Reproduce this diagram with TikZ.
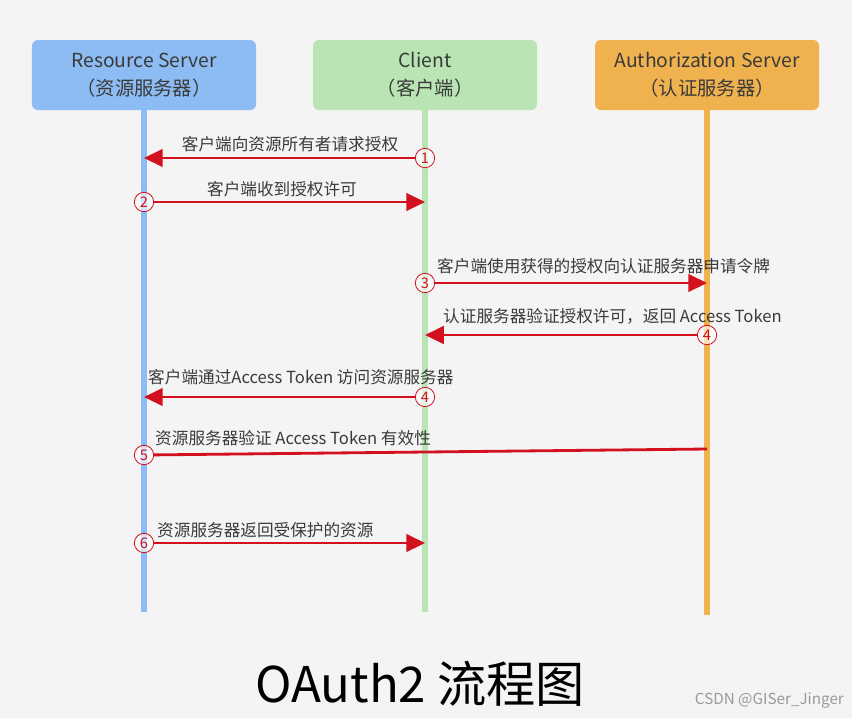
\documentclass[tikz,border=0pt]{standalone}
\usepackage{fontspec}
\setmainfont{Noto Sans CJK SC}
\usepackage{xcolor}
\usetikzlibrary{calc}
\usetikzlibrary{arrows.meta}
\usetikzlibrary{positioning}

\definecolor{bgcol}{HTML}{F4F4F4}
\definecolor{rsblue}{HTML}{8CBCF3}
\definecolor{clgreen}{HTML}{B9E5B4}
\definecolor{asorange}{HTML}{EFB24F}
\definecolor{msgred}{HTML}{D3101E}
\definecolor{txtgray}{HTML}{3A3A3A}

\begin{document}
\begin{tikzpicture}[x=0.03cm, y=-0.03cm,
    box/.style={rounded corners=5pt, minimum width=6.72cm, minimum height=2.1cm,
        align=center, text=txtgray, font=\fontsize{16.5}{24}\selectfont},
    life/.style={line width=5pt},
    msg/.style={draw=msgred, line width=2.4pt, -{Triangle[length=16pt, width=15pt]}},
    num/.style={circle, draw=msgred, fill=white, fill opacity=0.6, text opacity=1,
        text=msgred, inner sep=0pt, minimum size=0.58cm, line width=0.7pt,
        font=\fontsize{12.5}{12}\selectfont},
    lbl/.style={text=txtgray, inner sep=0pt, font=\fontsize{14.2}{16}\selectfont}]

    % 1. Background and fixed frame
    \fill[bgcol] (0,0) rectangle (852,718);
    \useasboundingbox (0,0) rectangle (852,718);

    % 2. The three parties
    \node[box, fill=rsblue] (rs) at (144,75) {Resource Server\\（资源服务器）};
    \node[box, fill=clgreen] (cl) at (425,75) {Client\\（客户端）};
    \node[box, fill=asorange] (auth) at (707,75) {Authorization Server\\（认证服务器）};

    % 3. Life lines below each party
    \coordinate (rsEnd) at (rs.south |- 0,612);
    \coordinate (clEnd) at (cl.south |- 0,612);
    \coordinate (authEnd) at (auth.south |- 0,615);
    \draw[life, rsblue] (rs.south) -- (rsEnd);
    \draw[life, clgreen] (cl.south) -- (clEnd);
    \draw[life, asorange] (auth.south) -- (authEnd);

    % 4. Client asks the resource owner for a grant
    \node[num] (n1) at (cl.south |- 0,158) {1};
    \coordinate (e1) at (rs.south |- 0,158);
    \draw[msg] (n1) -- (e1);
    \node[lbl] (t1) at (290,144) {客户端向资源所有者请求授权};

    % 5. Grant comes back to the client
    \node[num] (n2) at (rs.south |- 0,202) {2};
    \coordinate (e2) at (cl.south |- 0,202);
    \draw[msg] (n2) -- (e2);
    \node[lbl] (t2) at (282,189) {客户端收到授权许可};

    % 6. Client asks the authorization server for a token
    \node[num] (n3) at (cl.south |- 0,283) {3};
    \coordinate (e3) at (auth.south |- 0,283);
    \draw[msg] (n3) -- (e3);
    \node[lbl, anchor=west] (t3) at (437,266) {客户端使用获得的授权向认证服务器申请令牌};

    % 7. Token is returned
    \node[num] (n4) at (auth.south |- 0,335) {4};
    \coordinate (e4) at (cl.south |- 0,335);
    \draw[msg] (n4) -- (e4);
    \node[lbl, anchor=west] (t4) at (443,316) {认证服务器验证授权许可，返回 Access Token};

    % 8. Client calls the resource server with the token
    \node[num] (n4b) at (cl.south |- 0,397) {4};
    \coordinate (e4b) at (rs.south |- 0,397);
    \draw[msg] (n4b) -- (e4b);
    \node[lbl, anchor=west] (t4b) at (148,377) {客户端通过Access Token 访问资源服务器};

    % 9. Resource server checks the token (no head)
    \node[num] (n5) at (rs.south |- 0,455) {5};
    \coordinate (e5) at (auth.south |- 0,449);
    \draw[msgred, line width=2.4pt] (e5) -- (n5);
    \node[lbl, anchor=west] (t5) at (155,438) {资源服务器验证 Access Token 有效性};

    % 10. Protected resource goes to the client
    \node[num] (n6) at (rs.south |- 0,543) {6};
    \coordinate (e6) at (cl.south |- 0,543);
    \draw[msg] (n6) -- (e6);
    \node[lbl, anchor=west] (t6) at (157,530) {资源服务器返回受保护的资源};

    % 11. Title and mark
    \node[text=black, font=\fontsize{42}{44}\selectfont] (title) at (420,684) {OAuth2 流程图};
    \node[text=gray!80, anchor=east, font=\fontsize{13}{14}\selectfont] (mark) at (848,700) {CSDN @GISer\_Jinger};

\end{tikzpicture}
\end{document}
